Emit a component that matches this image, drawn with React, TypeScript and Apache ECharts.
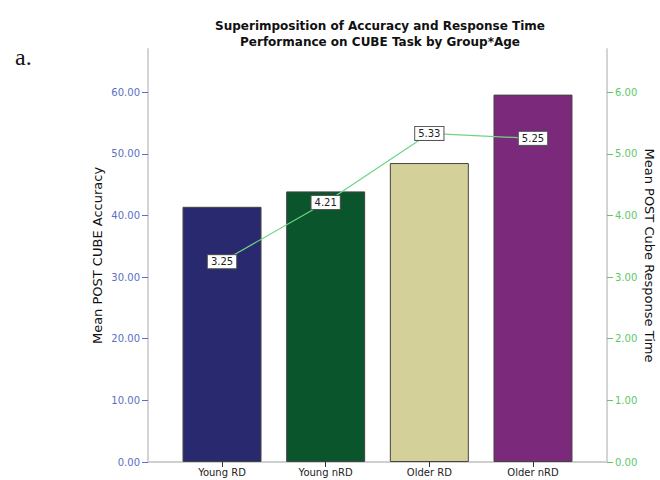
import React, { useEffect, useRef } from "react";
import * as echarts from "echarts";

const categories = ["Young RD", "Young nRD", "Older RD", "Older nRD"];
const accuracy = [41.4, 43.9, 48.5, 59.6];
const responseTime = [3.25, 4.21, 5.33, 5.25];
const barColors = ["#29296f", "#0b552d", "#d4d099", "#7b297b"];
const catPositions = [0, 1, 2, 3];

export default function App() {
  const ref = useRef<HTMLDivElement>(null);
  useEffect(() => {
    document.body.style.margin = "0";
    const chart = echarts.init(ref.current!, null, { renderer: "svg" });
    const font = "DejaVu Sans";
    chart.setOption({
      animation: false,
      backgroundColor: "#ffffff",
      textStyle: { fontFamily: font },
      title: [
        {
          text: "Superimposition of Accuracy and Response Time\nPerformance on CUBE Task by Group*Age",
          left: 375,
          top: 13,
          textAlign: "center",
          textStyle: { fontFamily: font, fontSize: 12, fontWeight: "bold", color: "#111", lineHeight: 16 },
        },
        {
          text: "a.",
          left: 10,
          top: 40,
          textStyle: { fontFamily: "Liberation Serif", fontSize: 24, fontWeight: "normal", color: "#111" },
        },
      ],
      grid: { left: 148, right: 53, top: 49, bottom: 18, containLabel: false, outerBoundsMode: "none" },
      xAxis: {
        type: "value",
        min: -0.714,
        max: 3.714,
        splitLine: { show: false },
        axisLine: { show: true, onZero: false, lineStyle: { color: "#cfcfcf", width: 2 } },
        axisTick: { show: true, customValues: catPositions, length: 5, lineStyle: { color: "#333" } },
        axisLabel: {
          customValues: catPositions,
          formatter: (v: number) => categories[Math.round(v)] ?? "",
          color: "#222",
          fontSize: 10,
          margin: 5,
          fontFamily: font,
        },
      },
      yAxis: [
        {
          type: "value",
          min: 0,
          max: 67,
          interval: 10,
          position: "left",
          name: "Mean POST CUBE Accuracy",
          nameLocation: "middle",
          nameRotate: 90,
          nameGap: 44,
          nameMoveOverlap: false,
          nameTextStyle: { fontFamily: font, fontSize: 13, color: "#111" },
          splitLine: { show: false },
          axisLine: { show: true, onZero: false, lineStyle: { color: "#d4d4d4", width: 2 } },
          axisTick: { show: true, length: 6, lineStyle: { color: "#5a6fc4" } },
          axisLabel: {
            formatter: (v: number) => v.toFixed(2),
            color: "#5a6fc4",
            fontSize: 10,
            margin: 8,
            fontFamily: font,
            showMaxLabel: false,
          },
        },
        {
          type: "value",
          min: 0,
          max: 6.7,
          interval: 1,
          position: "right",
          name: "Mean POST Cube Response Time",
          nameLocation: "middle",
          nameRotate: -90,
          nameGap: 36,
          nameMoveOverlap: false,
          nameTextStyle: { fontFamily: font, fontSize: 13, color: "#111" },
          splitLine: { show: false },
          axisLine: { show: true, onZero: false, lineStyle: { color: "#d4d4d4", width: 2 } },
          axisTick: { show: true, length: 6, lineStyle: { color: "#5cc86b" } },
          axisLabel: {
            formatter: (v: number) => v.toFixed(2),
            color: "#5cc86b",
            fontSize: 10,
            margin: 8,
            fontFamily: font,
            showMaxLabel: false,
          },
        },
      ],
      series: [
        {
          type: "bar",
          yAxisIndex: 0,
          barWidth: 79,
          data: accuracy.map((v, i) => ({
            value: [catPositions[i], v],
            itemStyle: { color: barColors[i], borderColor: "#444", borderWidth: 1 },
          })),
        },
        {
          type: "line",
          yAxisIndex: 1,
          data: responseTime.map((v, i) => [catPositions[i], v]),
          symbol: "circle",
          symbolSize: 1,
          showSymbol: true,
          itemStyle: { color: "rgba(0,0,0,0)" },
          lineStyle: { color: "#6fd483", width: 1.2 },
          label: {
            show: true,
            position: "inside",
            formatter: (p: any) => Number(p.value[1]).toFixed(2),
            color: "#222",
            fontSize: 10,
            fontFamily: font,
            backgroundColor: "#ffffff",
            borderColor: "#555",
            borderWidth: 1,
            padding: [2, 3, 1, 3],
          },
          z: 5,
        },
      ],
    });
    return () => chart.dispose();
  }, []);
  return <div ref={ref} style={{ width: 660, height: 480 }} />;
}
